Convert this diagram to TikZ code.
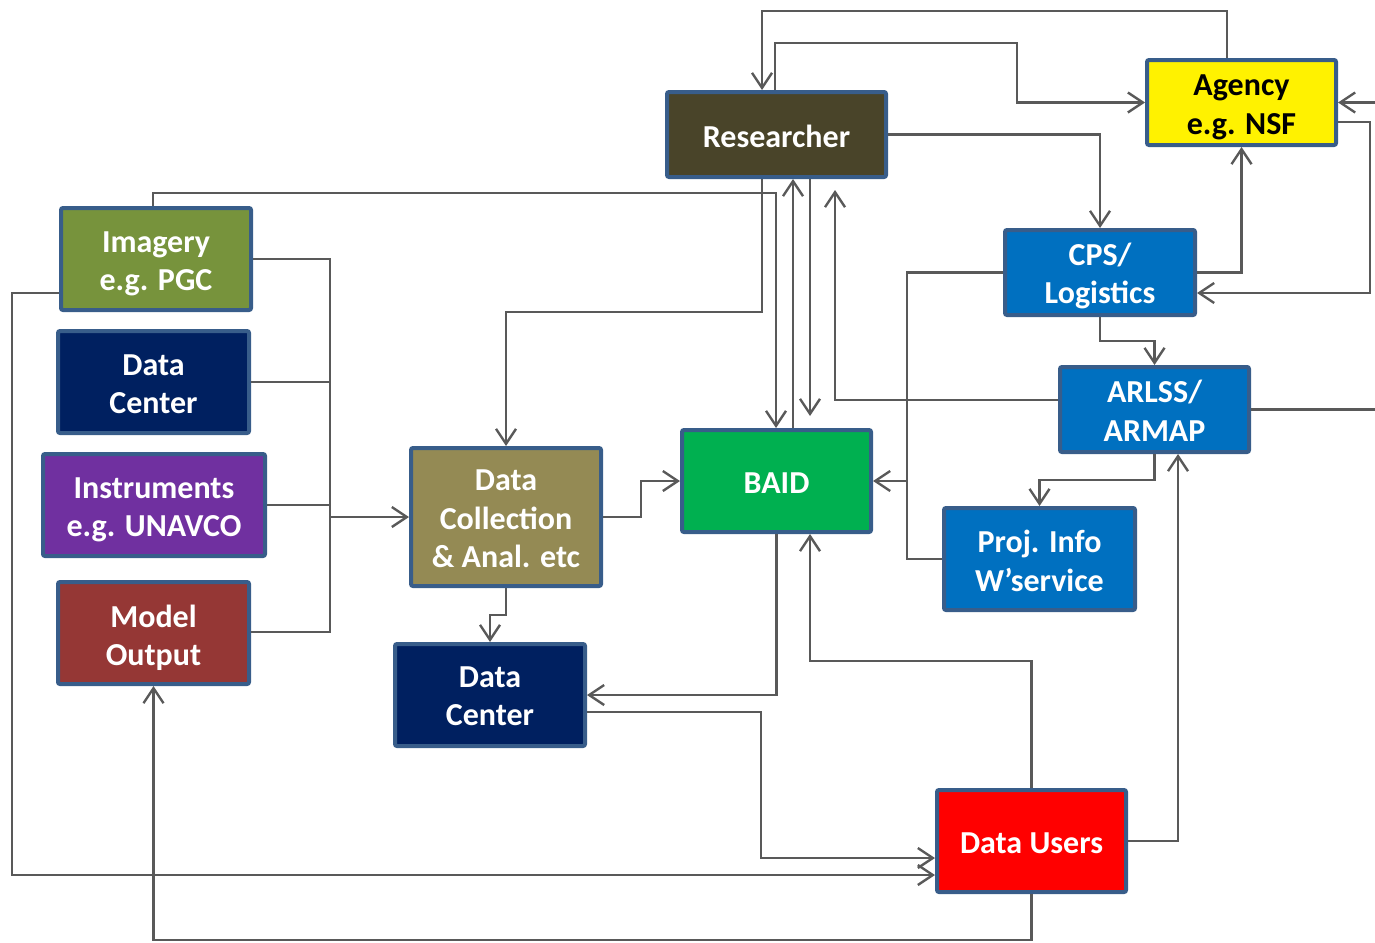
\documentclass[tikz,border=0pt]{standalone}
\usepackage{fontspec}
\setmainfont{Carlito}
\usetikzlibrary{arrows.meta}
\definecolor{bordc}{HTML}{385D8A}
\definecolor{linec}{HTML}{595959}
\definecolor{resc}{HTML}{494429}
\definecolor{bluec}{HTML}{0070C0}
\definecolor{greenc}{HTML}{00B050}
\definecolor{olivec}{HTML}{948A54}
\definecolor{navyc}{HTML}{002060}
\definecolor{imgc}{HTML}{77933C}
\definecolor{purpc}{HTML}{7030A0}
\definecolor{modc}{HTML}{953735}
\begin{document}
\begin{tikzpicture}[x=0.5pt,y=-0.5pt,
  box/.style={draw=bordc, line width=2pt, rounded corners=1pt, rectangle,
    inner sep=0pt, minimum width=95pt, minimum height=51pt},
  lbl/.style={align=center, text=white, font=\fontsize{16}{19.2}\selectfont\bfseries,
    inner sep=0pt, yshift=-1pt},
  low/.style={yshift=-1.4pt},
  conn/.style={draw=linec, line width=1.2pt},
  arr/.style={conn, -{Straight Barb[length=7.5pt,width=10pt,line width=1.2pt]}}]
\useasboundingbox (0,0) rectangle (1375,942);
% nodes
\node[box, fill=resc, minimum width=109.5pt, minimum height=42.5pt,
  label={[lbl]center:Researcher}] (res) at (776.5,134.5) {};
\node[box, fill=yellow, minimum width=94.5pt, minimum height=42.5pt,
  label={[lbl,low,text=black]center:{Agency\\e.g. NSF}}] (agency) at (1241.5,102.5) {};
\node[box, fill=bluec, minimum height=42.5pt,
  label={[lbl,yshift=-0.6pt]center:{CPS/\\Logistics}}] (cps) at (1100,272.5) {};
\node[box, fill=bluec, minimum width=94.5pt, minimum height=42.5pt,
  label={[lbl,yshift=0.3pt]center:{ARLSS/\\ARMAP}}] (arlss) at (1154.5,409.5) {};
\node[box, fill=bluec, minimum width=95.5pt,
  label={[lbl]center:{Proj. Info\\W’service}}] (proj) at (1039.5,559) {};
\node[box, fill=greenc, minimum width=94.5pt,
  label={[lbl]center:BAID}] (baid) at (776.5,481) {};
\node[box, fill=olivec, minimum height=69pt,
  label={[lbl]center:{Data\\Collection\\\& Anal. etc}}] (dcoll) at (506,517) {};
\node[box, fill=navyc,
  label={[lbl,yshift=0.4pt]center:{Data\\Center}}] (dc2) at (490,695) {};
\node[box, fill=red, minimum width=94.5pt,
  label={[lbl]center:Data Users}] (users) at (1031.5,841) {};
\node[box, fill=imgc,
  label={[lbl,low]center:{Imagery\\e.g. PGC}}] (img) at (156,259) {};
\node[box, fill=navyc, minimum width=95.5pt,
  label={[lbl]center:{Data\\Center}}] (dc1) at (153.5,382) {};
\node[box, fill=purpc, minimum width=111pt,
  label={[lbl,low]center:{Instruments\\e.g. UNAVCO}}] (instr) at (154,505) {};
\node[box, fill=modc, minimum width=95.5pt,
  label={[lbl,low]center:{Model\\Output}}] (model) at (153.5,633) {};
% free ends
\coordinate (inR) at (1375,102.5);
\coordinate (outR) at (1375,409.5);
\coordinate (tipA) at (835,190);
\coordinate (tipB) at (810,416);
% connectors
\draw[arr] (1227,0 |- agency.north) |- (762,11) -- (762,0 |- res.north);
\draw[arr] (775,0 |- res.north) |- (1017,43) |- (agency.west);
\draw[arr] (res.east) -| (cps.north);
\draw[arr] (cps.east) -| (agency.south);
\draw[arr] (agency.east |- 0,122) -| (1370,293) -- (cps.east |- 0,293);
\draw[arr] (inR) -- (agency.east);
\draw[conn] (arlss.east) -- (outR);
\draw[arr] (cps.south) -- ++(0,24) -| (arlss.north);
\draw[arr] (arlss.west |- 0,400) -| (tipA);
\draw[conn] (cps.west) -| (907,559) -- (proj.west);
\draw[arr] (907,481) -- (baid.east);
\draw[arr] (arlss.south) -- ++(0,26) -| (proj.north);
\draw[arr] (users.east) -| (1178,0 |- arlss.south);
\draw[arr] (762,0 |- res.south) |- (506,312) -- (dcoll.north);
\draw[arr] (153,0 |- img.north) |- (776,193) -- (776,0 |- baid.north);
\draw[arr] (793,0 |- baid.north) -- (793,0 |- res.south);
\draw[arr] (810,0 |- res.south) -- (tipB);
\draw[arr] (dcoll.east) -| (641,481) -- (baid.west);
\draw[arr] (dcoll.south) -- ++(0,27) -| (dc2.north);
\draw[arr] (baid.south) |- (dc2.east);
\draw[arr] (dc2.east |- 0,712) -| (761,858) -- (users.west |- 0,858);
\draw[arr] (users.north) |- (810,661) -- (810,0 |- baid.south);
\draw[arr] (img.west |- 0,293) -| (12,875) -- (users.west |- 0,875);
\draw[arr] (users.south) |- (model.south |- 0,940) -- (model.south);
\draw[conn] (img.east) -| (330,632) -- (model.east |- 0,632);
\draw[conn] (dc1.east) -- (330,382);
\draw[conn] (instr.east) -- (330,505);
\draw[arr] (330,517) -- (dcoll.west);
\end{tikzpicture}
\end{document}
